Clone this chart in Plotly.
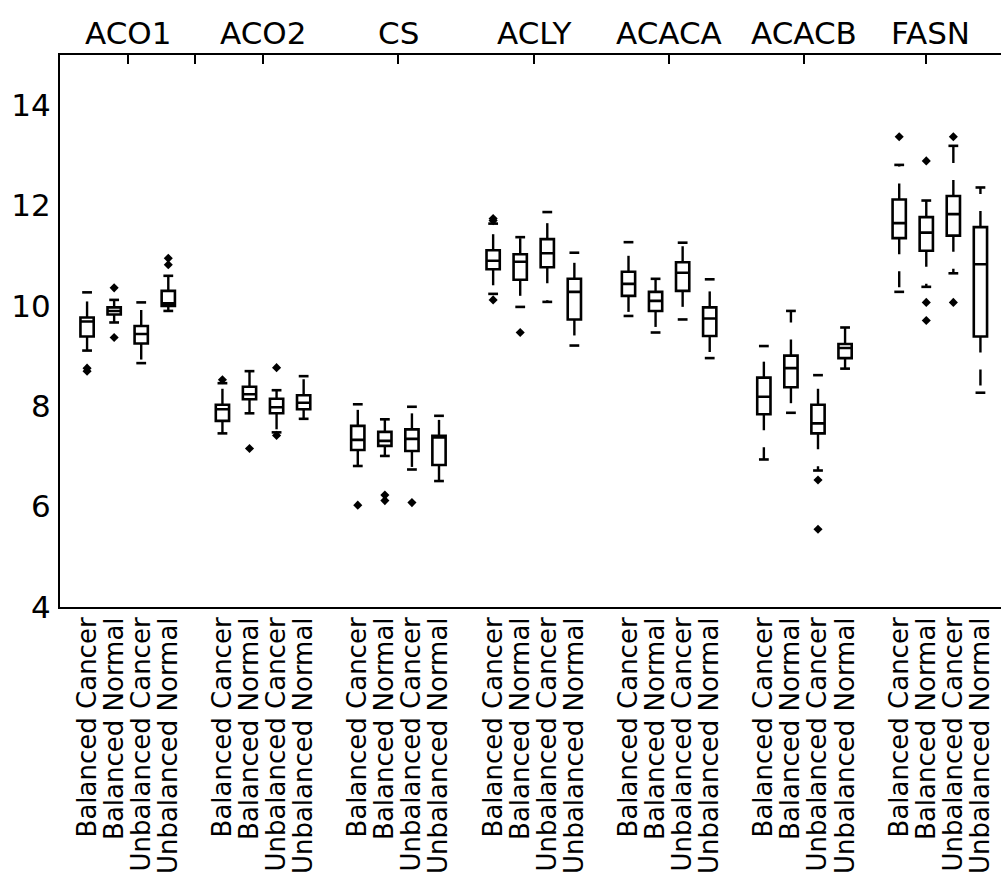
import plotly.graph_objects as go

genes = ["ACO1", "ACO2", "CS", "ACLY", "ACACA", "ACACB", "FASN"]
groups = ["Balanced Cancer", "Balanced Normal", "Unbalanced Cancer", "Unbalanced Normal"]

# per box (gene-major, 4 groups each)
q1 = [9.39, 9.83, 9.25, 10.00,
      7.71, 8.14, 7.86, 7.94,
      7.13, 7.21, 7.11, 6.83,
      10.73, 10.52, 10.77, 9.73,
      10.20, 9.90, 10.30, 9.40,
      7.84, 8.38, 7.46, 8.96,
      11.35, 11.10, 11.40, 9.39]
median = [9.69, 9.90, 9.44, 10.05,
          7.94, 8.24, 7.98, 8.07,
          7.33, 7.31, 7.35, 7.38,
          10.90, 10.88, 11.05, 10.28,
          10.44, 10.10, 10.66, 9.75,
          8.19, 8.76, 7.66, 9.16,
          11.65, 11.46, 11.83, 10.83]
q3 = [9.77, 9.97, 9.60, 10.30,
      8.03, 8.39, 8.15, 8.22,
      7.61, 7.49, 7.54, 7.41,
      11.11, 11.03, 11.33, 10.54,
      10.68, 10.28, 10.87, 9.97,
      8.57, 9.01, 8.03, 9.24,
      12.12, 11.77, 12.19, 11.57]
whisker_lo = [9.11, 9.67, 8.86, 9.90,
              7.46, 7.86, 7.48, 7.75,
              6.81, 7.01, 6.74, 6.51,
              10.24, 9.98, 10.08, 9.21,
              9.80, 9.47, 9.73, 8.96,
              6.94, 7.87, 6.72, 8.75,
              10.28, 10.38, 10.65, 8.27]
whisker_hi = [10.27, 10.12, 10.07, 10.60,
              8.46, 8.70, 8.32, 8.60,
              8.04, 7.74, 7.99, 7.81,
              11.64, 11.37, 11.87, 11.06,
              11.27, 10.54, 11.26, 10.53,
              9.20, 9.90, 8.62, 9.57,
              12.81, 12.10, 13.19, 12.36]
outliers = [[8.70, 8.76], [10.36, 9.37], [], [10.82, 10.95],
            [8.53], [7.16], [8.77, 7.42], [],
            [6.03], [6.23, 6.12], [6.08], [],
            [11.70, 11.74, 10.12], [9.47], [], [],
            [], [], [], [],
            [], [], [6.53, 5.55], [],
            [13.37], [12.89, 10.07, 9.71], [13.37, 10.07], []]

top_ticks = [1.5, 4, 6.5, 11.5, 16.5, 21.5, 26.5, 31]
label_pos = [1.5, 6.5, 11.5, 16.5, 21.5, 26.5, 31.15]

FONT = "DejaVu Sans"

# box positions: 4 per gene, one empty slot between genes
pos = [g * 5 + k for g in range(len(genes)) for k in range(len(groups))]
labels = [groups[k] for g in range(len(genes)) for k in range(len(groups))]

fig = go.Figure()

fig.add_trace(go.Box(
    x=pos, q1=q1, median=median, q3=q3,
    lowerfence=q1, upperfence=q3,
    width=0.49, whiskerwidth=0,
    fillcolor="rgba(0,0,0,0)",
    line=dict(color="black", width=2.6),
    boxpoints=False, showlegend=False, hoverinfo="skip",
))

# dashed whiskers from box edge to whisker end
wx, wy = [], []
for p, a, b, lo, hi in zip(pos, q1, q3, whisker_lo, whisker_hi):
    wx += [p, p, None, p, p, None]
    wy += [b, hi, None, a, lo, None]
fig.add_trace(go.Scatter(
    x=wx, y=wy, mode="lines",
    line=dict(color="black", width=2.4, dash="16px,17px"),
    showlegend=False, hoverinfo="skip",
))

# caps
fig.add_trace(go.Scatter(
    x=pos + pos, y=whisker_lo + whisker_hi, mode="markers",
    marker=dict(symbol="line-ew", size=7, line=dict(color="black", width=2.6)),
    showlegend=False, hoverinfo="skip",
))

# outliers
ox, oy = [], []
for p, vals in zip(pos, outliers):
    for v in vals:
        ox.append(p)
        oy.append(v)
fig.add_trace(go.Scatter(
    x=ox, y=oy, mode="markers",
    marker=dict(symbol="diamond", size=7, color="black", line=dict(width=0)),
    showlegend=False, hoverinfo="skip",
))

# invisible trace for top axis
fig.add_trace(go.Scatter(x=[0], y=[4], xaxis="x2", mode="markers",
                         marker=dict(opacity=0), showlegend=False, hoverinfo="skip"))

xr = [-1, 33.76]
fig.update_layout(
    width=1001, height=883,
    margin=dict(l=60, r=0, t=55, b=276, autoexpand=False),
    paper_bgcolor="white", plot_bgcolor="white",
    font=dict(family=FONT, color="black"),
    xaxis=dict(range=xr, showline=True, linecolor="black", linewidth=2,
               showgrid=False, zeroline=False, ticks="",
               tickmode="array", tickvals=pos, ticktext=labels,
               tickangle=-90, tickfont=dict(size=26, family=FONT, color="black"),
               ticklabelstandoff=-2),
    xaxis2=dict(range=xr, overlaying="x", side="top", showline=True,
                linecolor="black", linewidth=2, showgrid=False, zeroline=False,
                ticks="inside", ticklen=9, tickwidth=1.5, tickcolor="black",
                tickmode="array", tickvals=top_ticks, showticklabels=False),
    yaxis=dict(range=[4, 15], showline=True, linecolor="black", linewidth=2,
               showgrid=False, zeroline=False, ticks="",
               tickmode="array", tickvals=[4, 6, 8, 10, 12, 14],
               tickfont=dict(size=31, family=FONT, color="black"),
               ticklabelstandoff=1),
)

for g, lp in zip(genes, label_pos):
    fig.add_annotation(x=lp, xref="x", y=1, yref="paper", yanchor="middle",
                       yshift=22, text=g, showarrow=False,
                       font=dict(size=31, family=FONT, color="black"))

fig.write_html("out.html")
